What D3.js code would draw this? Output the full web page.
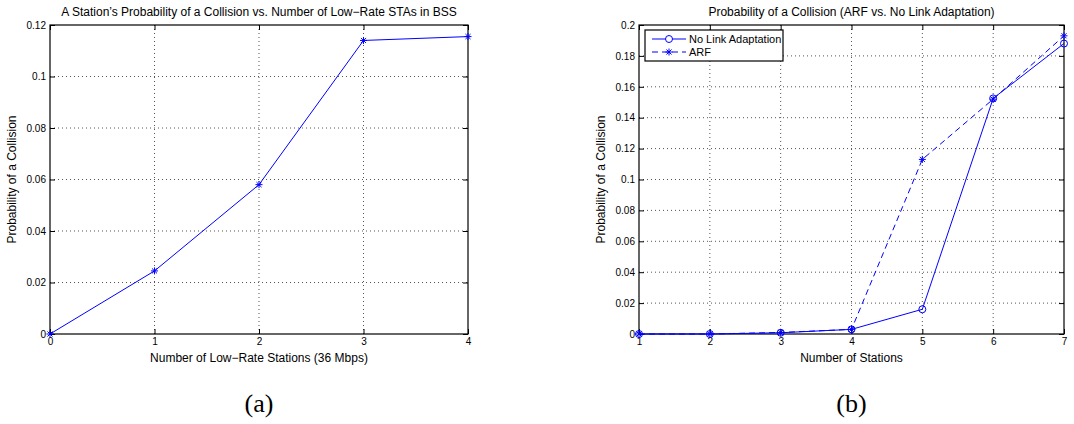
<!DOCTYPE html>
<meta charset="utf-8" />
<title>Collision Probability</title>
<script src="https://cdn.jsdelivr.net/npm/d3@7/dist/d3.min.js"></script>

<style>
  body {
    margin: 0;
    padding: 0;
    background: #fff;
    font-family: "Liberation Sans", Arial, sans-serif;
  }

  .grid line {
    stroke: #555;
    stroke-width: 1;
    stroke-dasharray: 1, 3;
  }

  .tick text {
    font-size: 10px;
    fill: #000;
  }

  .line {
    fill: none;
    stroke: #0000ff;
    stroke-width: 1;
  }
</style>

<body>
  <svg id="chart" width="1074" height="424"></svg>
</body>

<script>
  // left plot (a)
  var lowRateStations = [0, 1, 2, 3, 4];
  var collisionProbA = [0, 0.0245, 0.058, 0.114, 0.1155];
  var yTicksA = [0, 0.02, 0.04, 0.06, 0.08, 0.1, 0.12];

  // right plot (b)
  var numStations = [1, 2, 3, 4, 5, 6, 7];
  var noLinkAdapt = [0, 0, 0.0008, 0.003, 0.016, 0.1525, 0.188];
  var arf = [0, 0, 0.001, 0.003, 0.113, 0.152, 0.193];
  var yTicksB = [0, 0.02, 0.04, 0.06, 0.08, 0.1, 0.12, 0.14, 0.16, 0.18, 0.2];

  var svg = d3.select("#chart");

  function starPath(s) {
    // MATLAB style asterisk: +, x combined
    var h = s / 2, d = h * 0.72;
    return "M" + (-h) + ",0L" + h + ",0M0," + (-h) + "L0," + h +
      "M" + (-d) + "," + (-d) + "L" + d + "," + d +
      "M" + (-d) + "," + d + "L" + d + "," + (-d);
  }

  function drawFrame(g, x, y, xTicks, yTicks, w, h) {
    // grid
    g.append("g").attr("class", "grid")
      .selectAll("line").data(xTicks.slice(1, -1)).enter().append("line")
      .attr("x1", function (d) { return x(d); })
      .attr("x2", function (d) { return x(d); })
      .attr("y1", 0).attr("y2", h);
    g.append("g").attr("class", "grid")
      .selectAll("line").data(yTicks.slice(1, -1)).enter().append("line")
      .attr("y1", function (d) { return y(d); })
      .attr("y2", function (d) { return y(d); })
      .attr("x1", 0).attr("x2", w);

    var fmt = function (d) { return String(+d.toFixed(2)); };

    g.append("g").attr("transform", "translate(0," + h + ")")
      .call(d3.axisBottom(x).tickValues(xTicks).tickSizeInner(-5).tickSizeOuter(0).tickPadding(4).tickFormat(fmt))
      .call(function (a) { a.select(".domain").remove(); });
    g.append("g")
      .call(d3.axisTop(x).tickValues(xTicks).tickSizeInner(-5).tickSizeOuter(0).tickFormat(""))
      .call(function (a) { a.select(".domain").remove(); });
    g.append("g")
      .call(d3.axisLeft(y).tickValues(yTicks).tickSizeInner(-5).tickSizeOuter(0).tickPadding(4).tickFormat(fmt))
      .call(function (a) { a.select(".domain").remove(); });
    g.append("g").attr("transform", "translate(" + w + ",0)")
      .call(d3.axisRight(y).tickValues(yTicks).tickSizeInner(-5).tickSizeOuter(0).tickFormat(""))
      .call(function (a) { a.select(".domain").remove(); });

    g.selectAll(".tick line").attr("stroke", "#000");

    g.append("rect")
      .attr("x", 0).attr("y", 0).attr("width", w).attr("height", h)
      .attr("fill", "none").attr("stroke", "#000").attr("stroke-width", 1.2);
  }

  function addLabels(left, top, w, h, title, xlabel, ylabel, ylabelX, sub) {
    svg.append("text")
      .attr("x", left + w / 2).attr("y", 16)
      .attr("text-anchor", "middle").attr("font-size", 12)
      .text(title);
    svg.append("text")
      .attr("x", left + w / 2).attr("y", top + h + 28)
      .attr("text-anchor", "middle").attr("font-size", 12)
      .text(xlabel);
    svg.append("text")
      .attr("transform", "translate(" + ylabelX + "," + (top + h / 2) + ") rotate(-90)")
      .attr("text-anchor", "middle").attr("font-size", 12)
      .text(ylabel);
    svg.append("text")
      .attr("x", left + w / 2).attr("y", 412)
      .attr("text-anchor", "middle").attr("font-size", 26)
      .attr("font-family", "'Liberation Serif', 'DejaVu Serif', serif")
      .text(sub);
  }

  // ---------- (a) ----------
  var mA = { left: 50, top: 25, w: 418, h: 309 };
  var xA = d3.scaleLinear().domain([0, 4]).range([0, mA.w]);
  var yA = d3.scaleLinear().domain([0, 0.12]).range([mA.h, 0]);
  var gA = svg.append("g").attr("transform", "translate(" + mA.left + "," + mA.top + ")");
  drawFrame(gA, xA, yA, lowRateStations, yTicksA, mA.w, mA.h);

  var lineA = d3.line()
    .x(function (d, i) { return xA(lowRateStations[i]); })
    .y(function (d) { return yA(d); });
  gA.append("path").datum(collisionProbA).attr("class", "line").attr("d", lineA);
  gA.selectAll(".starA").data(collisionProbA).enter().append("path")
    .attr("class", "starA")
    .attr("transform", function (d, i) { return "translate(" + xA(lowRateStations[i]) + "," + yA(d) + ")"; })
    .attr("d", starPath(7)).attr("stroke", "#0000ff").attr("stroke-width", 1).attr("fill", "none");

  addLabels(mA.left, mA.top, mA.w, mA.h,
    "A Station\u2019s Probability of a Collision vs. Number of Low\u2212Rate STAs in BSS",
    "Number of Low\u2212Rate Stations (36 Mbps)", "Probability of a Collision", 16, "(a)");

  // ---------- (b) ----------
  var mB = { left: 639, top: 25, w: 425, h: 309 };
  var xB = d3.scaleLinear().domain([1, 7]).range([0, mB.w]);
  var yB = d3.scaleLinear().domain([0, 0.2]).range([mB.h, 0]);
  var gB = svg.append("g").attr("transform", "translate(" + mB.left + "," + mB.top + ")");
  drawFrame(gB, xB, yB, numStations, yTicksB, mB.w, mB.h);

  var lineB = d3.line()
    .x(function (d, i) { return xB(numStations[i]); })
    .y(function (d) { return yB(d); });
  gB.append("path").datum(noLinkAdapt).attr("class", "line").attr("d", lineB);
  gB.append("path").datum(arf).attr("class", "line")
    .attr("stroke-dasharray", "6,4").attr("d", lineB);

  gB.selectAll(".circB").data(noLinkAdapt).enter().append("circle")
    .attr("class", "circB")
    .attr("cx", function (d, i) { return xB(numStations[i]); })
    .attr("cy", function (d) { return yB(d); })
    .attr("r", 3.5).attr("fill", "none").attr("stroke", "#0000ff");
  gB.selectAll(".starB").data(arf).enter().append("path")
    .attr("class", "starB")
    .attr("transform", function (d, i) { return "translate(" + xB(numStations[i]) + "," + yB(d) + ")"; })
    .attr("d", starPath(7)).attr("stroke", "#0000ff").attr("stroke-width", 1).attr("fill", "none");

  addLabels(mB.left, mB.top, mB.w, mB.h,
    "Probability of a Collision (ARF vs. No Link Adaptation)",
    "Number of Stations", "Probability of a Collision", 605, "(b)");

  // legend
  var leg = gB.append("g").attr("transform", "translate(6,5)");
  leg.append("rect").attr("width", 138).attr("height", 31)
    .attr("fill", "#fff").attr("stroke", "#000").attr("stroke-width", 1.2);
  var legItems = [
    { name: "No Link Adaptation", dash: null, marker: "circle" },
    { name: "ARF", dash: "6,4", marker: "star" }
  ];
  legItems.forEach(function (it, i) {
    var yy = 9 + i * 13;
    leg.append("line").attr("x1", 7).attr("x2", 41).attr("y1", yy).attr("y2", yy)
      .attr("stroke", "#0000ff").attr("stroke-dasharray", it.dash);
    if (it.marker === "circle") {
      leg.append("circle").attr("cx", 24).attr("cy", yy).attr("r", 3.5)
        .attr("fill", "#fff").attr("stroke", "#0000ff");
    } else {
      leg.append("path").attr("transform", "translate(24," + yy + ")")
        .attr("d", starPath(7)).attr("stroke", "#0000ff").attr("fill", "none");
    }
    leg.append("text").attr("x", 44).attr("y", yy + 4).attr("font-size", 11).text(it.name);
  });
</script>
